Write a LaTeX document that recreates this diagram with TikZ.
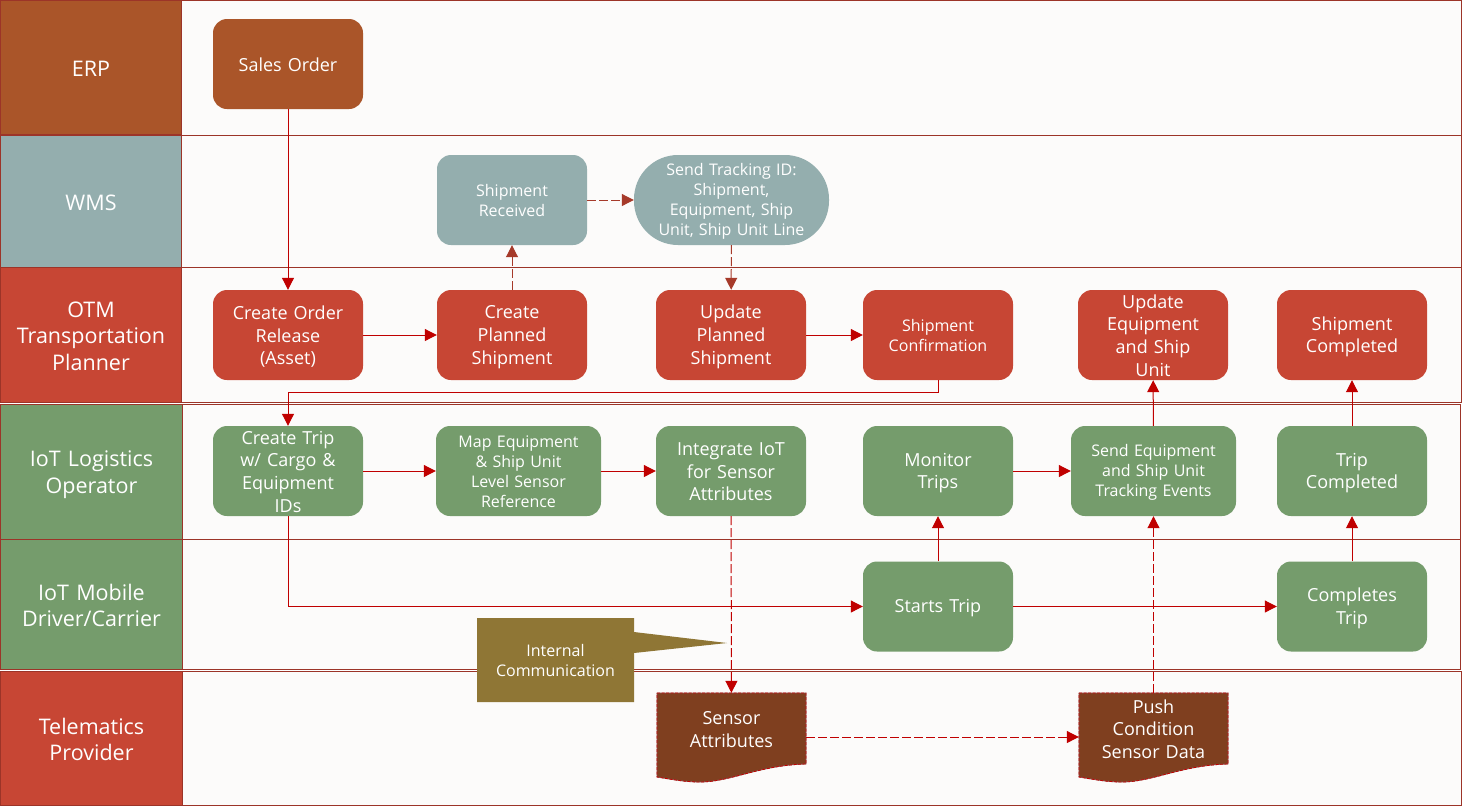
\documentclass[tikz,border=0pt]{standalone}
\usepackage{fontspec}
\setmainfont{Open Sans}
\usetikzlibrary{arrows.meta}

\definecolor{erpcol}{HTML}{AA5529}
\definecolor{wmscol}{HTML}{94AEAE}
\definecolor{otmcol}{HTML}{C74634}
\definecolor{iotcol}{HTML}{759C6C}
\definecolor{doccol}{HTML}{7F3F1F}
\definecolor{notecol}{HTML}{8F7635}
\definecolor{lanebg}{HTML}{FCFBFA}
\definecolor{lanerule}{HTML}{9C3428}
\definecolor{flowred}{HTML}{C00000}
\definecolor{flowrust}{HTML}{A63A2A}

\tikzset{
	struts/.style={text width=145pt, execute at begin node={\rule{0pt}{#1em}}, execute at end node={\rule[-.15em]{0pt}{0pt}}},
	struts/.default=.95,
	lanerect/.style={draw=lanerule, line width=1pt, fill=lanebg},
	lanehead/.style={draw=lanerule, line width=1pt, text=white, align=center, inner sep=0pt, struts=1.02, text width=170pt,
		font=\fontsize{21.5}{26.5}\selectfont},
	proc/.style={rounded corners=14pt, minimum width=150pt, minimum height=90pt, inner sep=0pt, struts,
		text=white, align=center, font=\fontsize{18}{22.7}\selectfont},
	procsmall/.style={proc, font=\fontsize{16}{19.8}\selectfont},
	docbox/.style={minimum width=149pt, minimum height=88pt, inner sep=0pt, struts=.85,
		execute at end node={\rule[-17.5pt]{0pt}{0pt}},
		text=white, align=center, font=\fontsize{18}{22.7}\selectfont},
	flow/.style={draw=flowred, line width=1pt, -{Triangle[length=12pt,width=12pt]}},
	flowdash/.style={flow, dash pattern=on 9pt off 3pt},
	rustdash/.style={flowdash, draw=flowrust, -{Triangle[length=12pt,width=12pt,fill=flowrust]}}
}

\begin{document}
\begin{tikzpicture}[x=1pt,y=-1pt]
\useasboundingbox (0,0) rectangle (1462,807);

% lanes
\draw[lanerect] (0.5,0.5) rectangle (1461,135);
\draw[lanerect] (0.5,135) rectangle (1461,267);
\draw[lanerect] (0.5,267) rectangle (1461,402);
\draw[lanerect] (0.5,404) rectangle (1460,539);
\draw[lanerect] (0.5,539) rectangle (1460,669);
\draw[lanerect] (0.5,671) rectangle (1461,805);

\path (91,67.5) node[lanehead, fill=erpcol, minimum width=181pt, minimum height=134.5pt] (erp) {ERP}
	(91,201) node[lanehead, fill=wmscol, minimum width=181pt, minimum height=132pt] (wms) {WMS}
	(91,334.5) node[lanehead, fill=otmcol, minimum width=181pt, minimum height=135pt] (otm) {OTM\\Transportation\\Planner}
	(91.5,471.5) node[lanehead, fill=iotcol, minimum width=182pt, minimum height=135pt] (logistics) {IoT Logistics\\Operator}
	(91.5,604) node[lanehead, fill=iotcol, minimum width=182pt, minimum height=130pt] (driver) {IoT Mobile\\Driver/Carrier}
	(91.5,738) node[lanehead, fill=otmcol, minimum width=182pt, minimum height=134pt] (telematics) {Telematics\\Provider};

% boxes
\path (288,64) node[proc, fill=erpcol] (salesorder) {Sales Order}
	(512,200) node[procsmall, fill=wmscol] (received) {Shipment\\Received}
	(731.5,200) node[procsmall, fill=wmscol, text width=180pt, minimum width=195pt, rounded corners=44pt] (tracking) {Send Tracking ID:\\Shipment,\\Equipment, Ship\\Unit, Ship Unit Line}
	(288,335) node[proc, fill=otmcol] (release) {Create Order\\Release\\(Asset)}
	(512,335) node[proc, fill=otmcol] (planned) {Create\\Planned\\Shipment}
	(731,335) node[proc, fill=otmcol] (updateplan) {Update\\Planned\\Shipment}
	(938,335) node[procsmall, fill=otmcol] (confirm) {Shipment\\Confirmation}
	(1153,335) node[proc, fill=otmcol] (updateeq) {Update\\Equipment\\and Ship\\Unit}
	(1352,335) node[proc, fill=otmcol] (shipdone) {Shipment\\Completed}
	(288,471) node[proc, fill=iotcol] (createtrip) {Create Trip\\w/ Cargo \&\\Equipment\\IDs}
	(518.5,471) node[procsmall, fill=iotcol, minimum width=165pt] (mapeq) {Map Equipment\\\& Ship Unit\\Level Sensor\\Reference}
	(731,471) node[proc, fill=iotcol] (integrate) {Integrate IoT\\for Sensor\\Attributes}
	(938,471) node[proc, fill=iotcol] (monitor) {Monitor\\Trips}
	(1153.5,471) node[procsmall, fill=iotcol, minimum width=165pt] (sendeq) {Send Equipment\\and Ship Unit\\Tracking Events}
	(1352,471) node[proc, fill=iotcol] (tripdone) {Trip\\Completed}
	(938,606.5) node[proc, fill=iotcol] (starts) {Starts Trip}
	(1352,606.5) node[proc, fill=iotcol] (completes) {Completes\\Trip};

% note
\fill[notecol] (477,618) -- (634,618) -- (634,632) -- (727,643) -- (634,653) -- (634,702) -- (477,702) -- cycle;
\path (555.5,660) node[text=white, align=center, inner sep=0pt, struts, font=\fontsize{16}{19.8}\selectfont] (note) {Internal\\Communication};

% documents
\foreach \x in {657,1079}{
	\path[fill=doccol] (\x,693) -- ++(149,0) -- ++(0,71) .. controls +(-46,1) and +(30,0) .. ++(-106,18) .. controls +(-16,0) and +(13,2) .. ++(-43,-5) -- cycle;
	\draw[lanerule!50!gray, line width=.8pt] (\x,693) -- ++(149,0) -- ++(0,71) .. controls +(-46,1) and +(30,0) .. ++(-106,18) .. controls +(-16,0) and +(13,2) .. ++(-43,-5) -- cycle;
	\draw[flowred, line width=.8pt, dash pattern=on 3pt off 1.5pt] (\x,693) -- ++(149,0) -- ++(0,71) .. controls +(-46,1) and +(30,0) .. ++(-106,18) .. controls +(-16,0) and +(13,2) .. ++(-43,-5) -- cycle;
}
\path (731.5,737) node[docbox] (attrs) {Sensor\\Attributes}
	(1153.5,737) node[docbox] (push) {Push\\Condition\\Sensor Data};

% flows
\draw[flow] (salesorder) -- (release);
\draw[flow] (release) -- (planned);
\draw[flow] (updateplan) -- (confirm);
\draw[flow] (confirm.south) -- ++(0,12) -| (createtrip.north);
\draw[flow] (createtrip) -- (mapeq);
\draw[flow] (mapeq) -- (integrate);
\draw[flow] (monitor) -- (sendeq);
\draw[flow] (sendeq) -- (updateeq);
\draw[flow] (tripdone) -- (shipdone);
\draw[flow] (createtrip.south) |- (starts.west);
\draw[flow] (starts) -- (monitor);
\draw[flow] (starts) -- (completes);
\draw[flow] (completes) -- (tripdone);

\draw[rustdash] (planned) -- (received);
\draw[rustdash] (received) -- (tracking);
\draw[rustdash] (tracking) -- (updateplan);
\draw[flowdash] (integrate) -- (attrs);
\draw[flowdash] (attrs) -- (push);
\draw[flowdash] (push) -- (sendeq);
\end{tikzpicture}
\end{document}
